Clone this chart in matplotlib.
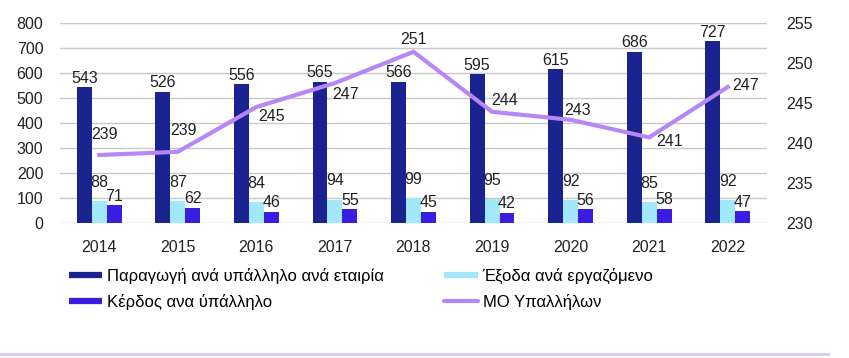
import matplotlib
matplotlib.use("Agg")
import matplotlib.pyplot as plt
import numpy as np
from matplotlib.lines import Line2D

plt.rcParams['font.family'] = ['Liberation Sans', 'DejaVu Sans']

years = ['2014', '2015', '2016', '2017', '2018', '2019', '2020', '2021', '2022']
production = [543, 526, 556, 565, 566, 595, 615, 686, 727]
expenses = [88, 87, 84, 94, 99, 95, 92, 85, 92]
profit = [71, 62, 46, 55, 45, 42, 56, 58, 47]
employees = [238.5, 238.9, 244.5, 247.5, 251.4, 243.9, 242.9, 240.7, 247.0]
employee_labels = ['239', '239', '245', '247', '251', '244', '243', '241', '247']

names = ['Παραγωγή ανά υπάλληλο ανά εταιρία', 'Έξοδα ανά εργαζόμενο',
         'Κέρδος ανα ύπάλληλο', 'ΜΟ Υπαλλήλων']

c_dark = '#1a2390'
c_light = '#a0e8fa'
c_blue = '#3a1ee0'
c_line = '#b887f7'

# label offsets (points) for the line values
line_offsets = [(4, 15), (4, 15), (11, -7), (8, -8), (0, 9), (9, 8), (5, 7), (15, -3), (13, 1)]

fig = plt.figure(figsize=(8.49, 3.58), dpi=100)
ax = fig.add_axes([60/849, 1-223/358, 707/849, 200/358])
ax2 = ax.twinx()

x = np.arange(len(years))
w = 0.19
fs = 11.5

ax.bar(x - w, production, w, color=c_dark, zorder=3)
ax.bar(x, expenses, w, color=c_light, zorder=3)
ax.bar(x + w, profit, w, color=c_blue, zorder=3)

for i in range(len(years)):
    ax.annotate(str(production[i]), (x[i] - w, production[i]), xytext=(0, 1),
                textcoords='offset points', ha='center', va='bottom', fontsize=fs, color='#222222', zorder=5)
    ax.annotate(str(expenses[i]), (x[i], expenses[i]), xytext=(0, 8),
                textcoords='offset points', ha='center', va='bottom', fontsize=fs, color='#222222', zorder=5)
    ax.annotate(str(profit[i]), (x[i] + w, profit[i]), xytext=(0, 1),
                textcoords='offset points', ha='center', va='bottom', fontsize=fs, color='#222222', zorder=5)

ax2.plot(x, employees, color=c_line, lw=3, zorder=4, solid_joinstyle='miter')
for i in range(len(years)):
    ax2.annotate(employee_labels[i], (x[i], employees[i]), xytext=line_offsets[i],
                 textcoords='offset points', ha='center', va='center', fontsize=fs, color='#222222')

ax.set_xlim(-0.5, len(years) - 0.5)
ax.set_ylim(0, 800)
ax.set_yticks(range(0, 801, 100))
ax2.set_ylim(230, 255)
ax2.set_yticks(range(230, 256, 5))
ax.set_xticks(x)
ax.set_xticklabels(years)

ax.grid(axis='y', color='#c8c8c8', lw=1, zorder=0)
for a in (ax, ax2):
    for s in a.spines.values():
        s.set_visible(False)
    a.tick_params(length=0, labelsize=fs, colors='#222222')
ax.tick_params(axis='y', pad=12)
ax2.tick_params(axis='y', pad=14)
ax.tick_params(axis='x', pad=12)

handles = [
    Line2D([], [], color=c_dark, lw=4.5, solid_capstyle='butt'),
    Line2D([], [], color=c_blue, lw=4.5, solid_capstyle='butt'),
    Line2D([], [], color=c_light, lw=4.5, solid_capstyle='butt'),
    Line2D([], [], color=c_line, lw=3, solid_capstyle='round'),
]
labels = [names[0], names[2], names[1], names[3]]
fig.legend(handles, labels, ncol=2, loc='upper left',
           bbox_to_anchor=(69/849, 1-268/358), frameon=False, fontsize=12,
           borderpad=0, borderaxespad=0, handlelength=2.0, handletextpad=0.3,
           columnspacing=3.6, labelspacing=0.6)

fig.add_artist(Line2D([0, 828/849], [1-354/358, 1-354/358], color='#dccbf7', lw=2,
                      transform=fig.transFigure))

fig.savefig('out.png', dpi=100)
